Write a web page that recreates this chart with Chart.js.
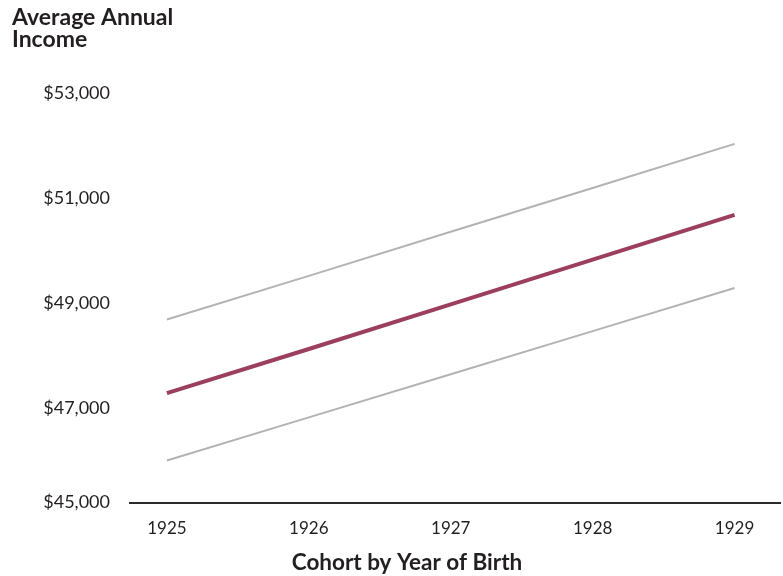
<!DOCTYPE html>
<html>
<head>
<meta charset="utf-8">
<script src="https://cdn.jsdelivr.net/npm/chart.js@4/dist/chart.umd.min.js"></script>
<style>
  html, body { margin: 0; padding: 0; background: #ffffff; }
  #wrap { width: 783px; height: 576px; }
</style>
</head>
<body>
<div id="wrap"><canvas id="c" width="783" height="576"></canvas></div>
<script>
// Birth cohorts and average annual income with its upper / lower band
const years = [1925, 1926, 1927, 1928, 1929];
const incomeAverage = [47290, 48130, 48980, 49830, 50680];
const incomeUpper   = [48690, 49520, 50360, 51190, 52030];
const incomeLower   = [46010, 46830, 47650, 48470, 49290];

// Value-axis ticks: the first label sits on the baseline
const yTickValues = [47000, 49000, 51000, 53000];
const yTickLabels = ['$45,000', '$47,000', '$49,000', '$51,000', '$53,000'];

const titleLines = ['Average Annual', 'Income'];
const xTitle = 'Cohort by Year of Birth';

const ink = '#231f20';
Chart.defaults.font.family = 'Lato, "Open Sans", sans-serif';
Chart.defaults.color = ink;

const toPoints = arr => years.map((yr, i) => ({ x: yr, y: arr[i] }));

// Axis caption under the year labels
const xCaption = {
  id: 'xCaption',
  afterDraw(chart) {
    const ctx = chart.ctx;
    ctx.save();
    ctx.font = 'bold 22.5px Lato, "Open Sans", sans-serif';
    ctx.fillStyle = ink;
    ctx.textAlign = 'center';
    ctx.textBaseline = 'middle';
    ctx.fillText(xTitle, 407, 563);
    ctx.restore();
  }
};

new Chart(document.getElementById('c'), {
  type: 'line',
  data: {
    datasets: [
      { label: 'Upper', data: toPoints(incomeUpper), borderColor: '#b3b3b3', borderWidth: 2, pointRadius: 0 },
      { label: 'Lower', data: toPoints(incomeLower), borderColor: '#b3b3b3', borderWidth: 2, pointRadius: 0 },
      { label: 'Average', data: toPoints(incomeAverage), borderColor: '#9c3f5e', borderWidth: 4, pointRadius: 0 }
    ]
  },
  options: {
    responsive: false,
    animation: false,
    layout: { padding: { left: 12, right: 3, top: 0, bottom: 21 } },
    plugins: {
      legend: { display: false },
      tooltip: { enabled: false },
      title: {
        display: true,
        text: titleLines,
        align: 'start',
        color: ink,
        font: { size: 23, weight: 'bold', lineHeight: 0.95 },
        padding: { top: 7, bottom: 29 }
      }
    },
    scales: {
      x: {
        type: 'linear',
        min: 1924.74,
        max: 1929.32,
        grid: { display: false, drawTicks: false },
        border: { display: true, color: '#2b2b2b', width: 2 },
        afterBuildTicks: s => { s.ticks = years.map(v => ({ value: v })); },
        ticks: {
          autoSkip: false,
          padding: 16,
          font: { size: 17 },
          color: ink,
          callback: v => String(v)
        }
      },
      y: {
        type: 'linear',
        min: 45210,
        max: 53250,
        grid: { display: false, drawTicks: false },
        border: { display: false },
        afterFit: s => { s.width = 118; },
        afterBuildTicks: s => {
          s.ticks = [{ value: s.min }].concat(yTickValues.map(v => ({ value: v })));
        },
        ticks: {
          autoSkip: false,
          padding: 20,
          font: { size: 18 },
          color: ink,
          callback: (v, i) => yTickLabels[i]
        }
      }
    }
  },
  plugins: [xCaption]
});
</script>
</body>
</html>
